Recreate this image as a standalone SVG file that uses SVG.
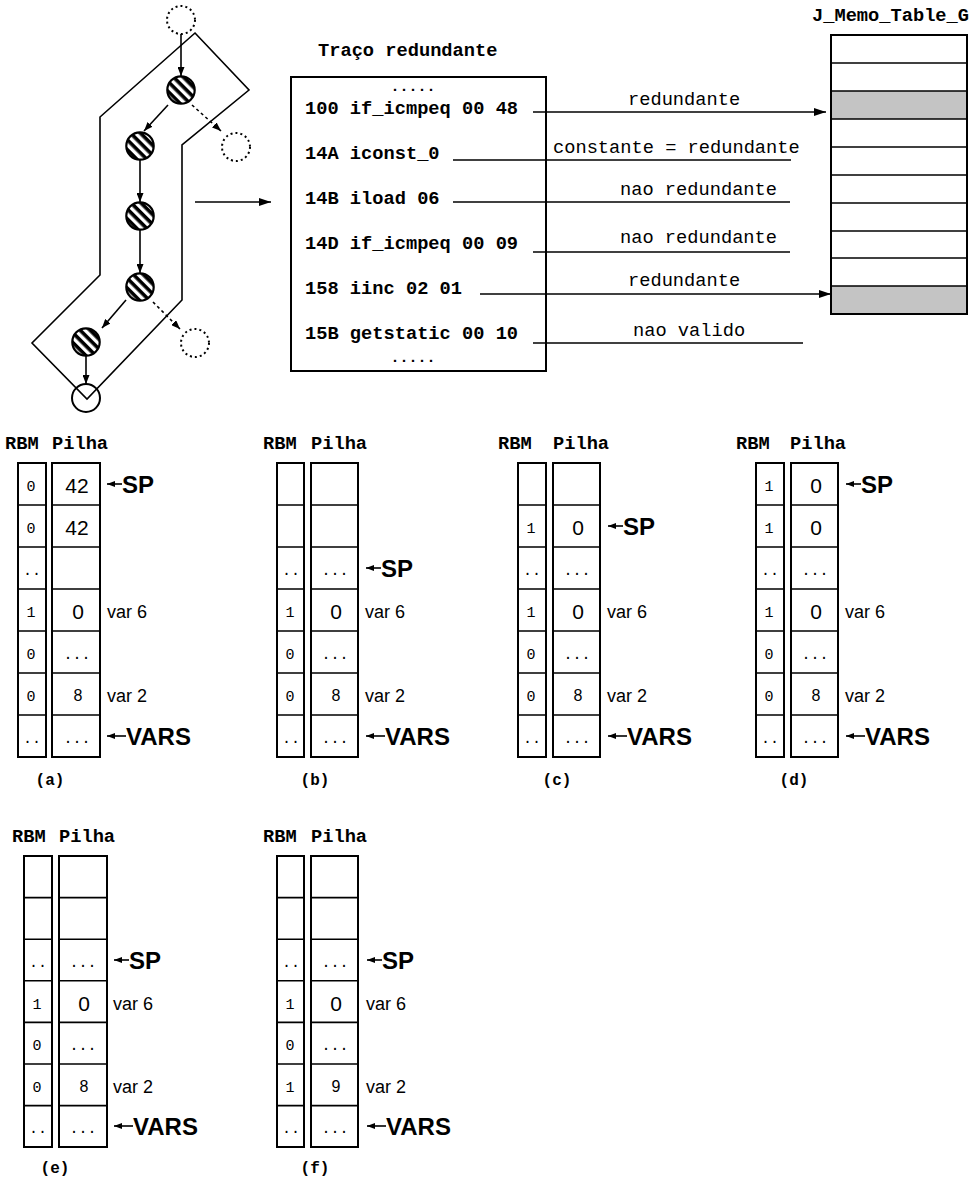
<svg xmlns="http://www.w3.org/2000/svg" width="977" height="1183" viewBox="0 0 977 1183">
<style>
.mb{font-family:"Liberation Mono","Courier New",monospace;font-weight:bold;fill:#000}
.mr{font-family:"Liberation Mono","Courier New",monospace;fill:#000}
.sa{font-family:"Liberation Sans",Arial,sans-serif;fill:#000}
.sb{font-family:"Liberation Sans",Arial,sans-serif;font-weight:bold;fill:#000}
.ln{stroke:#000;stroke-width:1.6;fill:none}
.dt{stroke:#000;stroke-width:1.6;fill:none;stroke-dasharray:3 3}
.hn{fill:url(#hatch);stroke:#000;stroke-width:2.2}
.dn{fill:none;stroke:#000;stroke-width:2;stroke-dasharray:2 3}
.col{fill:#fff;stroke:#000;stroke-width:2}
.rl{stroke:#000;stroke-width:1.6}
.tr{font-size:18.7px}
.dots{font-size:15px}
.hd{font-size:18.7px}
.rb{font-size:15px}
.pd{font-size:15px}
.pv{font-size:21px}
.p8{font-size:16px}
.vl{font-size:18px}
.ptr{font-size:24px}
.cap{font-size:16px}
.mid{text-anchor:middle}
</style>
<defs>
<pattern id="hatch" width="7" height="7" patternUnits="userSpaceOnUse" patternTransform="rotate(45)">
<rect x="0" y="0" width="7" height="7" fill="#fff"/>
<rect x="0" y="0" width="7" height="3.6" fill="#000"/>
</pattern>
<marker id="ag" markerWidth="9" markerHeight="7" refX="9" refY="3.5" orient="auto" markerUnits="userSpaceOnUse"><path d="M0,0 L9,3.5 L0,7 z" fill="#000"/></marker>
<marker id="am" markerWidth="12" markerHeight="8" refX="12" refY="4" orient="auto" markerUnits="userSpaceOnUse"><path d="M0,0 L12,4 L0,8 z" fill="#000"/></marker>
<marker id="al" markerWidth="8" markerHeight="6" refX="8" refY="3" orient="auto" markerUnits="userSpaceOnUse"><path d="M0,0 L8,3 L0,6 z" fill="#000"/></marker>
</defs>
<rect x="0" y="0" width="977" height="1183" fill="#fff"/>

<g id="trace-outline">
<path class="ln" stroke-width="2" d="M195,33 L249,90 L182,145 L182,300 L87,399 L32,343 L100,275 L100,117 Z"/>
</g>

<g id="graph-nodes">
<g id="n-top"><circle class="dn" cx="181" cy="20" r="14"/></g>
<g id="n1"><circle class="hn" cx="181" cy="90" r="13.7"/></g>
<g id="n-exit1"><circle class="dn" cx="236" cy="147" r="14"/></g>
<g id="n2"><circle class="hn" cx="140" cy="146" r="13.7"/></g>
<g id="n3"><circle class="hn" cx="140" cy="216" r="13.7"/></g>
<g id="n4"><circle class="hn" cx="140" cy="287" r="13.7"/></g>
<g id="n-exit2"><circle class="dn" cx="195" cy="343" r="14"/></g>
<g id="n5"><circle class="hn" cx="86" cy="342" r="13.7"/></g>
<g id="n-end"><circle cx="86" cy="398" r="14" fill="none" stroke="#000" stroke-width="2"/></g>
</g>

<g id="trace-box">
<text class="mb tr" x="318" y="56">Traço redundante</text>
<rect x="291" y="77" width="255" height="294" fill="none" stroke="#000" stroke-width="2"/>
<text class="mb dots mid" x="413" y="91">.....</text>
<text class="mb tr" x="305" y="114">100 if_icmpeq 00 48</text>
<text class="mb tr" x="305" y="159">14A iconst_0</text>
<text class="mb tr" x="305" y="204">14B iload 06</text>
<text class="mb tr" x="305" y="249">14D if_icmpeq 00 09</text>
<text class="mb tr" x="305" y="294">158 iinc 02 01</text>
<text class="mb tr" x="305" y="339">15B getstatic 00 10</text>
<text class="mb dots mid" x="413" y="362">.....</text>
</g>

<g id="memo-table">
<text class="mb tr" x="812" y="21">J_Memo_Table_G</text>
<rect x="831" y="91" width="136" height="28" fill="#c4c4c4"/>
<rect x="831" y="286" width="136" height="28" fill="#c4c4c4"/>
<rect x="831" y="35" width="136" height="279" fill="none" stroke="#000" stroke-width="2"/>
<g class="rl">
<line x1="831" y1="63" x2="967" y2="63"/>
<line x1="831" y1="91" x2="967" y2="91"/>
<line x1="831" y1="119" x2="967" y2="119"/>
<line x1="831" y1="147" x2="967" y2="147"/>
<line x1="831" y1="175" x2="967" y2="175"/>
<line x1="831" y1="203" x2="967" y2="203"/>
<line x1="831" y1="231" x2="967" y2="231"/>
<line x1="831" y1="258" x2="967" y2="258"/>
<line x1="831" y1="286" x2="967" y2="286"/>
</g>
</g>

<g id="connectors">
<line class="ln" x1="181" y1="34" x2="181" y2="76" marker-end="url(#ag)"/>
<line class="ln" x1="168" y1="105" x2="144" y2="131" marker-end="url(#ag)"/>
<line class="dt" x1="192" y1="105" x2="221" y2="131" marker-end="url(#ag)"/>
<line class="ln" x1="140" y1="160" x2="140" y2="202" marker-end="url(#ag)"/>
<line class="ln" x1="140" y1="230" x2="140" y2="273" marker-end="url(#ag)"/>
<line class="ln" x1="126" y1="300" x2="102" y2="328" marker-end="url(#ag)"/>
<line class="dt" x1="153" y1="302" x2="180" y2="329" marker-end="url(#ag)"/>
<line class="ln" x1="86" y1="356" x2="86" y2="384" marker-end="url(#ag)"/>
<line class="ln" x1="195" y1="202" x2="271" y2="202" marker-end="url(#am)"/>
<line class="ln" x1="533" y1="112" x2="826" y2="112" marker-end="url(#am)"/>
<line class="ln" x1="453" y1="160" x2="791" y2="160"/>
<line class="ln" x1="453" y1="202" x2="790" y2="202"/>
<line class="ln" x1="533" y1="252" x2="790" y2="252"/>
<line class="ln" x1="480" y1="294" x2="831" y2="294" marker-end="url(#am)"/>
<line class="ln" x1="533" y1="343" x2="803" y2="343"/>
<text class="mr tr" x="628" y="105">redundante</text>
<text class="mr tr" x="553" y="153">constante = redundante</text>
<text class="mr tr" x="620" y="195">nao redundante</text>
<text class="mr tr" x="620" y="243">nao redundante</text>
<text class="mr tr" x="628" y="286">redundante</text>
<text class="mr tr" x="633" y="336">nao valido</text>
</g>

<g id="panel-a">
<text class="mb hd" y="449"><tspan x="5">RBM</tspan> <tspan x="52">Pilha</tspan></text>
<rect class="col" x="18" y="463" width="28" height="294"/>
<rect class="col" x="52" y="463" width="48" height="294"/>
<g class="rl"><path d="M18,505H46M18,547H46M18,589H46M18,631H46M18,673H46M18,715H46M52,505H100M52,547H100M52,589H100M52,631H100M52,673H100M52,715H100"/></g>
<g class="mr rb mid"><text x="31" y="491">0</text><text x="31" y="533">0</text><text x="32" y="575">..</text><text x="31" y="617">1</text><text x="31" y="659">0</text><text x="31" y="701">0</text><text x="32" y="743">..</text></g>
<g class="sa mid"><text class="pv" x="77" y="493">42</text><text class="pv" x="77" y="535">42</text><text class="pv" x="78" y="619">0</text><text class="p8" x="78" y="701">8</text></g>
<g class="mr pd mid"><text x="77" y="659">...</text><text x="77" y="743">...</text></g>
<text class="sa vl" x="107" y="618">var 6</text>
<text class="sa vl" x="107" y="702">var 2</text>
<line class="ln" x1="122" y1="484" x2="107" y2="484" marker-end="url(#al)"/>
<text class="sb ptr" x="122" y="493">SP</text>
<line class="ln" x1="126" y1="736" x2="107" y2="736" marker-end="url(#al)"/>
<text class="sb ptr" x="126" y="745">VARS</text>
<text class="mb cap mid" x="50" y="785">(a)</text>
</g>

<g id="panel-b">
<text class="mb hd" y="449"><tspan x="263">RBM</tspan> <tspan x="311">Pilha</tspan></text>
<rect class="col" x="277" y="463" width="27" height="294"/>
<rect class="col" x="311" y="463" width="47" height="294"/>
<g class="rl"><path d="M277,505H304M277,547H304M277,589H304M277,631H304M277,673H304M277,715H304M311,505H358M311,547H358M311,589H358M311,631H358M311,673H358M311,715H358"/></g>
<g class="mr rb mid"><text x="291" y="575">..</text><text x="290" y="617">1</text><text x="290" y="659">0</text><text x="290" y="701">0</text><text x="291" y="743">..</text></g>
<g class="sa mid"><text class="pv" x="336" y="619">0</text><text class="p8" x="336" y="701">8</text></g>
<g class="mr pd mid"><text x="335" y="575">...</text><text x="335" y="659">...</text><text x="335" y="743">...</text></g>
<text class="sa vl" x="365" y="618">var 6</text>
<text class="sa vl" x="365" y="702">var 2</text>
<line class="ln" x1="381" y1="568" x2="366" y2="568" marker-end="url(#al)"/>
<text class="sb ptr" x="381" y="577">SP</text>
<line class="ln" x1="385" y1="736" x2="366" y2="736" marker-end="url(#al)"/>
<text class="sb ptr" x="385" y="745">VARS</text>
<text class="mb cap mid" x="315" y="785">(b)</text>
</g>

<g id="panel-c">
<text class="mb hd" y="449"><tspan x="498">RBM</tspan> <tspan x="553">Pilha</tspan></text>
<rect class="col" x="518" y="463" width="28" height="294"/>
<rect class="col" x="553" y="463" width="47" height="294"/>
<g class="rl"><path d="M518,505H546M518,547H546M518,589H546M518,631H546M518,673H546M518,715H546M553,505H600M553,547H600M553,589H600M553,631H600M553,673H600M553,715H600"/></g>
<g class="mr rb mid"><text x="531" y="533">1</text><text x="532" y="575">..</text><text x="531" y="617">1</text><text x="531" y="659">0</text><text x="531" y="701">0</text><text x="532" y="743">..</text></g>
<g class="sa mid"><text class="pv" x="578" y="535">0</text><text class="pv" x="578" y="619">0</text><text class="p8" x="578" y="701">8</text></g>
<g class="mr pd mid"><text x="577" y="575">...</text><text x="577" y="659">...</text><text x="577" y="743">...</text></g>
<text class="sa vl" x="607" y="618">var 6</text>
<text class="sa vl" x="607" y="702">var 2</text>
<line class="ln" x1="623" y1="526" x2="608" y2="526" marker-end="url(#al)"/>
<text class="sb ptr" x="623" y="535">SP</text>
<line class="ln" x1="627" y1="736" x2="608" y2="736" marker-end="url(#al)"/>
<text class="sb ptr" x="627" y="745">VARS</text>
<text class="mb cap mid" x="557" y="785">(c)</text>
</g>

<g id="panel-d">
<text class="mb hd" y="449"><tspan x="736">RBM</tspan> <tspan x="790">Pilha</tspan></text>
<rect class="col" x="756" y="463" width="28" height="294"/>
<rect class="col" x="791" y="463" width="47" height="294"/>
<g class="rl"><path d="M756,505H784M756,547H784M756,589H784M756,631H784M756,673H784M756,715H784M791,505H838M791,547H838M791,589H838M791,631H838M791,673H838M791,715H838"/></g>
<g class="mr rb mid"><text x="769" y="491">1</text><text x="769" y="533">1</text><text x="770" y="575">..</text><text x="769" y="617">1</text><text x="769" y="659">0</text><text x="769" y="701">0</text><text x="770" y="743">..</text></g>
<g class="sa mid"><text class="pv" x="816" y="493">0</text><text class="pv" x="816" y="535">0</text><text class="pv" x="816" y="619">0</text><text class="p8" x="816" y="701">8</text></g>
<g class="mr pd mid"><text x="815" y="575">...</text><text x="815" y="659">...</text><text x="815" y="743">...</text></g>
<text class="sa vl" x="845" y="618">var 6</text>
<text class="sa vl" x="845" y="702">var 2</text>
<line class="ln" x1="861" y1="484" x2="846" y2="484" marker-end="url(#al)"/>
<text class="sb ptr" x="861" y="493">SP</text>
<line class="ln" x1="865" y1="736" x2="846" y2="736" marker-end="url(#al)"/>
<text class="sb ptr" x="865" y="745">VARS</text>
<text class="mb cap mid" x="794" y="785">(d)</text>
</g>

<g id="panel-e">
<text class="mb hd" y="842"><tspan x="12">RBM</tspan> <tspan x="59">Pilha</tspan></text>
<rect class="col" x="24" y="856" width="28" height="291"/>
<rect class="col" x="59" y="856" width="48" height="291"/>
<g class="rl"><path d="M24,897.6H52M24,939.2H52M24,980.8H52M24,1022.4H52M24,1064H52M24,1105.6H52M59,897.6H107M59,939.2H107M59,980.8H107M59,1022.4H107M59,1064H107M59,1105.6H107"/></g>
<g class="mr rb mid"><text x="38" y="967">..</text><text x="37" y="1009">1</text><text x="37" y="1050">0</text><text x="37" y="1092">0</text><text x="38" y="1133">..</text></g>
<g class="sa mid"><text class="pv" x="84" y="1011">0</text><text class="p8" x="84" y="1092">8</text></g>
<g class="mr pd mid"><text x="83" y="967">...</text><text x="83" y="1050">...</text><text x="83" y="1133">...</text></g>
<text class="sa vl" x="113" y="1010">var 6</text>
<text class="sa vl" x="113" y="1093">var 2</text>
<line class="ln" x1="129" y1="960" x2="114" y2="960" marker-end="url(#al)"/>
<text class="sb ptr" x="129" y="969">SP</text>
<line class="ln" x1="133" y1="1126" x2="114" y2="1126" marker-end="url(#al)"/>
<text class="sb ptr" x="133" y="1135">VARS</text>
<text class="mb cap mid" x="55" y="1173">(e)</text>
</g>

<g id="panel-f">
<text class="mb hd" y="842"><tspan x="263">RBM</tspan> <tspan x="311">Pilha</tspan></text>
<rect class="col" x="277" y="856" width="27" height="291"/>
<rect class="col" x="311" y="856" width="47" height="291"/>
<g class="rl"><path d="M277,897.6H304M277,939.2H304M277,980.8H304M277,1022.4H304M277,1064H304M277,1105.6H304M311,897.6H358M311,939.2H358M311,980.8H358M311,1022.4H358M311,1064H358M311,1105.6H358"/></g>
<g class="mr rb mid"><text x="291" y="967">..</text><text x="290" y="1009">1</text><text x="290" y="1050">0</text><text x="290" y="1092">1</text><text x="291" y="1133">..</text></g>
<g class="sa mid"><text class="pv" x="336" y="1011">0</text><text class="p8" x="336" y="1092">9</text></g>
<g class="mr pd mid"><text x="335" y="967">...</text><text x="335" y="1050">...</text><text x="335" y="1133">...</text></g>
<text class="sa vl" x="366" y="1010">var 6</text>
<text class="sa vl" x="366" y="1093">var 2</text>
<line class="ln" x1="382" y1="960" x2="367" y2="960" marker-end="url(#al)"/>
<text class="sb ptr" x="382" y="969">SP</text>
<line class="ln" x1="386" y1="1126" x2="367" y2="1126" marker-end="url(#al)"/>
<text class="sb ptr" x="386" y="1135">VARS</text>
<text class="mb cap mid" x="315" y="1173">(f)</text>
</g>
</svg>
